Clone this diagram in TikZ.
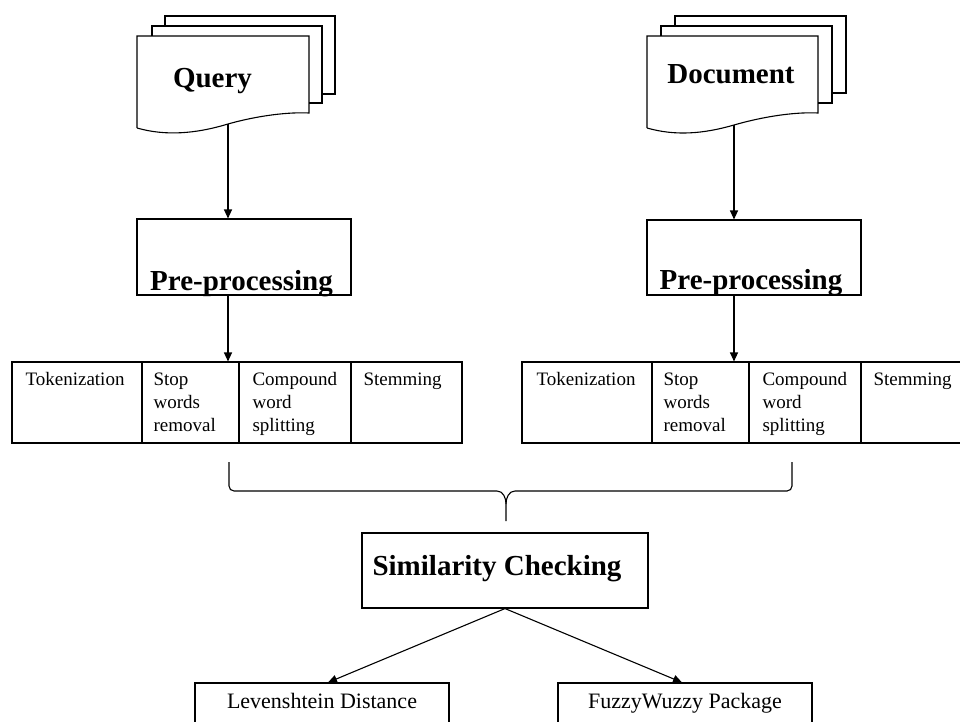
\documentclass[tikz,border=0pt]{standalone}
\usepackage{fontspec}
\setmainfont{Liberation Serif}
\usetikzlibrary{arrows.meta}
\begin{document}
\begin{tikzpicture}[x=1pt,y=-1pt,line width=1.1pt,
  box/.style={draw,inner sep=0pt},
  arr/.style={-{Triangle[length=9pt,width=8pt]}},
  bigtxt/.style={font=\fontsize{29}{33}\selectfont\bfseries,anchor=base,inner sep=0pt},
  celltxt/.style={font=\fontsize{19}{23}\selectfont,align=left,anchor=north west,inner sep=0pt},
  lowtxt/.style={font=\fontsize{22}{26}\selectfont,anchor=base,inner sep=0pt},
  sheet/.style={draw,line join=miter}]
\useasboundingbox (0,0) rectangle (960,722);
\clip (0,0) rectangle (960,722);

% ---- Query document stack
\draw[sheet] (165,26) -- (165,16) -- (335,16) -- (335,94) -- (322,94);
\draw[sheet] (152,36) -- (152,26) -- (322,26) -- (322,103) -- (309,103);
\draw[sheet] (137,128) -- (137,36) -- (309,36) -- (309,113)
  .. controls (290,112) and (260,115) .. (228,124)
  .. controls (195,134) and (165,136) .. (137,128);
\coordinate (qbot) at (228,124);
\node[bigtxt] (qtxt) at (212.5,88) {Query};

% ---- Document stack
\draw[sheet] (675,26) -- (675,16) -- (846,16) -- (846,93) -- (832,93);
\draw[sheet] (661,36) -- (661,26) -- (832,26) -- (832,103) -- (818,103);
\draw[sheet] (647,128) -- (647,36) -- (818,36) -- (818,113)
  .. controls (799,112) and (769,115) .. (734,125)
  .. controls (703,134) and (675,136) .. (647,128);
\coordinate (dbot) at (734,125);
\node[bigtxt] (dtxt) at (731,84) {Document};

% ---- Pre-processing boxes
\node[box,minimum width=214pt,minimum height=76pt] (pp1) at (244,257) {};
\node[bigtxt] (pp1t) at (241.5,290) {Pre-processing};
\node[box,minimum width=214pt,minimum height=75pt] (pp2) at (754,257.5) {};
\node[bigtxt] (pp2t) at (751,289) {Pre-processing};

% ---- left table
\node[box,minimum width=130pt,minimum height=81pt] (a1) at (77,402.5) {};
\node[box,minimum width=97pt,minimum height=81pt] (a2) at (190.5,402.5) {};
\node[box,minimum width=112pt,minimum height=81pt] (a3) at (295,402.5) {};
\node[box,minimum width=111pt,minimum height=81pt] (a4) at (406.5,402.5) {};
\node[celltxt] (a1t) at (25,369) {\strut Tokenization};
\node[celltxt] (a2t) at (153,369) {\strut Stop\\words\\removal};
\node[celltxt] (a3t) at (252,369) {\strut Compound\\word\\splitting};
\node[celltxt] (a4t) at (363,369) {\strut Stemming};

% ---- right table
\node[box,minimum width=130pt,minimum height=81pt] (b1) at (587,402.5) {};
\node[box,minimum width=97pt,minimum height=81pt] (b2) at (700.5,402.5) {};
\node[box,minimum width=112pt,minimum height=81pt] (b3) at (805,402.5) {};
\node[box,minimum width=120pt,minimum height=81pt] (b4) at (921,402.5) {};
\node[celltxt] (b1t) at (536,369) {\strut Tokenization};
\node[celltxt] (b2t) at (663,369) {\strut Stop\\words\\removal};
\node[celltxt] (b3t) at (762,369) {\strut Compound\\word\\splitting};
\node[celltxt] (b4t) at (873,369) {\strut Stemming};

% ---- arrows top
\draw[arr] (qbot) -- (qbot |- pp1.north);
\draw[arr] (qbot |- pp1.south) -- (qbot |- a2.north);
\draw[arr] (dbot) -- (dbot |- pp2.north);
\draw[arr] (dbot |- pp2.south) -- (dbot |- b2.north);

% ---- brace
\coordinate (brtip) at (506,521);
\draw[line width=1.1pt,line join=round]
  (229,462) -- (229,486) to[out=-90,in=180] (234,491) -- (497,491)
  to[out=0,in=90] (506,504) -- (brtip);
\draw[line width=1.1pt,line join=round]
  (506,504) to[out=90,in=180] (515,491) -- (787,491)
  to[out=0,in=-90] (792,486) -- (792,462);

% ---- similarity
\node[box,minimum width=286pt,minimum height=75pt] (sim) at (505,570.5) {};
\node[bigtxt] (simt) at (497,575) {Similarity Checking};

% ---- bottom boxes
\node[box,minimum width=254pt,minimum height=80pt] (lev) at (322,723) {};
\node[lowtxt] (levt) at (322,708) {Levenshtein Distance};
\node[box,minimum width=254pt,minimum height=80pt] (fuz) at (685,723) {};
\node[lowtxt] (fuzt) at (685,708) {FuzzyWuzzy Package};

\draw[arr] (sim.south) -- ([xshift=6pt]lev.north);
\draw[arr] (sim.south) -- ([xshift=-3pt]fuz.north);
\end{tikzpicture}
\end{document}
